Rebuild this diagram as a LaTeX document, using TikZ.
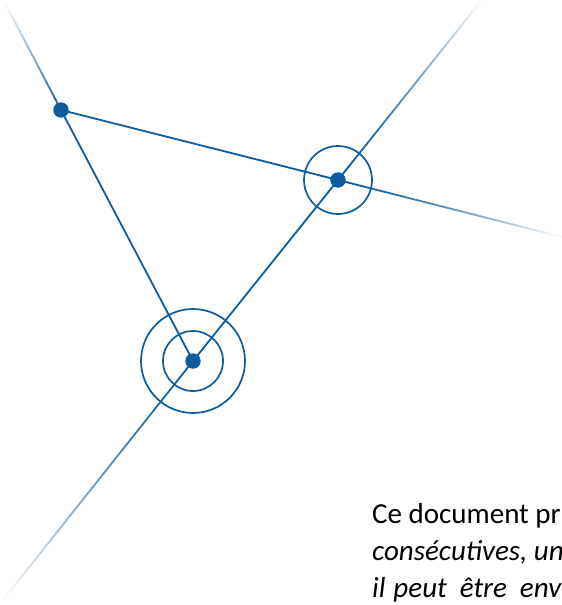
\documentclass[tikz,border=0pt]{standalone}
\usepackage{fontspec}
\setmainfont{Carlito}
\usetikzlibrary{calc}
\definecolor{lb}{RGB}{12,92,158}
\newcommand\fadeseg[3]{%
  \foreach \i in {0,...,59}{%
    \pgfmathtruncatemacro\p{max(3,100*(1-(\i/60)^#3))}%
    \draw[fl, draw=lb!\p!white] ($(#1)!{\i/60}!(#2)$) -- ($(#1)!{(\i+1)/60}!(#2)$);
  }%
}
\begin{document}
\begin{tikzpicture}[x=1pt,y=-1pt,
  fl/.style={line width=1.8pt, line cap=round},
  sl/.style={line width=1.8pt, draw=lb},
  ring/.style={line width=1.7pt, draw=lb},
  dot/.style={circle, fill=lb, inner sep=0pt, minimum size=15.4pt},
  txt/.style={anchor=base west, inner sep=0pt, font=\fontsize{29}{34}\selectfont}]
\useasboundingbox (0,0) rectangle (562,605);
\clip (0,0) rectangle (562,605);
\coordinate (A) at (61,110);
\coordinate (B) at (338,180);
\coordinate (C) at (193,361);
\coordinate (EA) at (5,3);
\coordinate (EB) at (562,237);
\coordinate (ET) at (481,1);
\coordinate (EC) at (3,600);
% faded extensions
\fadeseg{A}{EA}{1.0}
\fadeseg{B}{EB}{1.5}
\fadeseg{B}{ET}{1.5}
\fadeseg{C}{EC}{1.4}
% solid lines
\draw[sl] (A) -- (B);
\draw[sl] (A) -- (C);
\draw[sl] (C) -- (B);
% rings
\draw[ring] (B) circle[radius=34];
\draw[ring] (C) circle[radius=30];
\draw[ring] (C) circle[radius=52];
% dots
\node[dot] (a) at (A) {};
\node[dot] (b) at (B) {};
\node[dot] (c) at (C) {};
% text
\node[txt] (t1) at (372,523) {Ce document pr};
\node[txt] (t2) at (372,560) {\itshape consécutives, un};
\node[txt] (t3) at (372,597) {\itshape il\hspace{0.05em} peut\hspace{0.22em} être\hspace{0.22em} env};
\end{tikzpicture}
\end{document}
